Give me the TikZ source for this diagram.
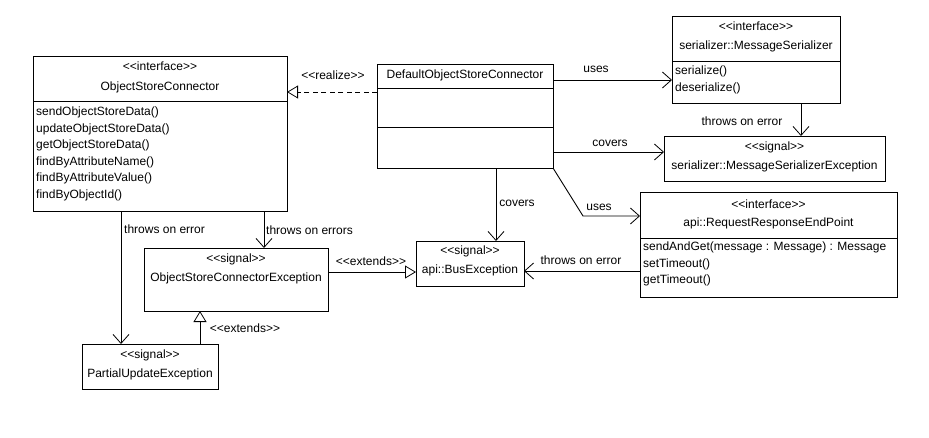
\documentclass[tikz,border=0pt]{standalone}
\usepackage{fontspec}
\setmainfont{Liberation Sans}[Ligatures=TeXOff]
\usetikzlibrary{arrows.meta,shadows}
\begin{document}
\begin{tikzpicture}[x=1pt,y=-1pt,
  every node/.style={font=\fontsize{12}{14}\selectfont, inner sep=0pt, text=black},
  umlbox/.style={draw, line width=0.9pt, fill=white, anchor=north west, outer sep=0pt,
    general shadow={fill=gray!45, shadow xshift=1.4pt, shadow yshift=-1.4pt}},
  sep/.style={line width=0.9pt},
  txt/.style={anchor=center},
  member/.style={anchor=west},
  link/.style={line width=0.9pt},
  uses/.style={link, -{Straight Barb[length=9pt,width=16pt,line width=0.8pt]}},
  inherit/.style={link, -{Triangle[open,length=11pt,width=13pt,line width=0.8pt,fill=white]}},
  realize/.style={inherit, dash pattern=on 5pt off 3.5pt}
]
\useasboundingbox (0,0) rectangle (929,437);
\fill[white] (0,0) rectangle (929,437);

% ---------- ObjectStoreConnector ----------
\node[umlbox, minimum width=254pt, minimum height=155pt] (osc) at (33,56) {};
\draw[sep] (osc.west |- 0,101) -- (osc.east |- 0,101);
\node[txt] (osc-st) at (160,66) {<<interface>>};
\node[txt] (osc-nm) at (160,87) {ObjectStoreConnector};
\node[member] (osc-m1) at (36,112) {sendObjectStoreData()};
\node[member] (osc-m2) at (36,129) {updateObjectStoreData()};
\node[member] (osc-m3) at (36,145) {getObjectStoreData()};
\node[member] (osc-m4) at (36,162) {findByAttributeName()};
\node[member] (osc-m5) at (36,178) {findByAttributeValue()};
\node[member] (osc-m6) at (36,195) {findByObjectId()};

% ---------- DefaultObjectStoreConnector ----------
\node[umlbox, minimum width=176pt, minimum height=104pt] (dosc) at (377,64) {};
\draw[sep] (dosc.west |- 0,88) -- (dosc.east |- 0,88);
\draw[sep] (dosc.west |- 0,127) -- (dosc.east |- 0,127);
\node[txt] (dosc-nm) at (465,75) {DefaultObjectStoreConnector};

% ---------- serializer::MessageSerializer ----------
\node[umlbox, minimum width=168pt, minimum height=87pt] (ms) at (672,16) {};
\draw[sep] (ms.west |- 0,61) -- (ms.east |- 0,61);
\node[txt] (ms-st) at (756,26) {<<interface>>};
\node[txt] (ms-nm) at (756,46) {serializer::MessageSerializer};
\node[member] (ms-m1) at (675,71) {serialize()};
\node[member] (ms-m2) at (675,88) {deserialize()};

% ---------- serializer::MessageSerializerException ----------
\node[umlbox, minimum width=221pt, minimum height=45pt] (mse) at (664,136) {};
\node[txt] (mse-st) at (774.5,147) {<<signal>>};
\node[txt] (mse-nm) at (774.5,166) {serializer::MessageSerializerException};

% ---------- api::RequestResponseEndPoint ----------
\node[umlbox, minimum width=257pt, minimum height=105pt] (rre) at (640,192) {};
\draw[sep] (rre.west |- 0,238) -- (rre.east |- 0,238);
\node[txt] (rre-st) at (768.5,204) {<<interface>>};
\node[txt] (rre-nm) at (768.5,223) {api::RequestResponseEndPoint};
\node[member] (rre-m1) at (643,247) {sendAndGet(message : Message) : Message};
\node[member] (rre-m2) at (643,264) {setTimeout()};
\node[member] (rre-m3) at (643,280) {getTimeout()};

% ---------- api::BusException ----------
\node[umlbox, minimum width=108pt, minimum height=45pt] (bus) at (416,241) {};
\node[txt] (bus-st) at (470,251) {<<signal>>};
\node[txt] (bus-nm) at (470,270) {api::BusException};

% ---------- ObjectStoreConnectorException ----------
\node[umlbox, minimum width=184pt, minimum height=63pt] (osce) at (144,248) {};
\node[txt] (osce-st) at (236,259) {<<signal>>};
\node[txt] (osce-nm) at (236,278) {ObjectStoreConnectorException};

% ---------- PartialUpdateException ----------
\node[umlbox, minimum width=136pt, minimum height=45pt] (pue) at (82,344) {};
\node[txt] (pue-st) at (150,355) {<<signal>>};
\node[txt] (pue-nm) at (150,374) {PartialUpdateException};

% ---------- relations ----------
\draw[realize] (dosc.west |- 0,92) -- (osc.east |- 0,92);
\node[txt] (lbl-realize) at (333,75) {<<realize>>};

\draw[uses] (dosc.east |- 0,80) -- (ms.west |- 0,80);
\node[txt] (lbl-uses1) at (596,69) {uses};

\draw[uses] (dosc.east |- 0,152) -- (mse.west |- 0,152);
\node[txt] (lbl-covers1) at (610,143) {covers};

\draw[uses] (ms.south -| 801,0) -- (mse.north -| 801,0);
\node[txt] (lbl-throws1) at (742,121) {throws on error};

\coordinate (bend) at (583,216);
\draw[uses] (dosc.south east) -- (bend) -- (rre.west |- bend);
\node[txt] (lbl-uses2) at (599,207) {uses};

\draw[uses] (dosc.south -| 496,0) -- (bus.north -| 496,0);
\node[txt] (lbl-covers2) at (517,203) {covers};

\draw[uses] (rre.west |- 0,271) -- (bus.east |- 0,271);
\node[txt] (lbl-throws2) at (581,260) {throws on error};

\draw[inherit] (osce.east |- 0,272) -- (bus.west |- 0,272);
\node[txt] (lbl-ext1) at (371,261) {<<extends>>};

\draw[uses] (osc.south -| 264,0) -- (osce.north -| 264,0);
\node[anchor=west] (lbl-throws3) at (266,230) {throws on errors};

\draw[uses] (osc.south -| 121,0) -- (pue.north -| 121,0);
\node[anchor=west] (lbl-throws4) at (124,229) {throws on error};

\draw[inherit] (pue.north -| 200,0) -- (osce.south -| 200,0);
\node[txt] (lbl-ext2) at (245,328) {<<extends>>};
\end{tikzpicture}
\end{document}
